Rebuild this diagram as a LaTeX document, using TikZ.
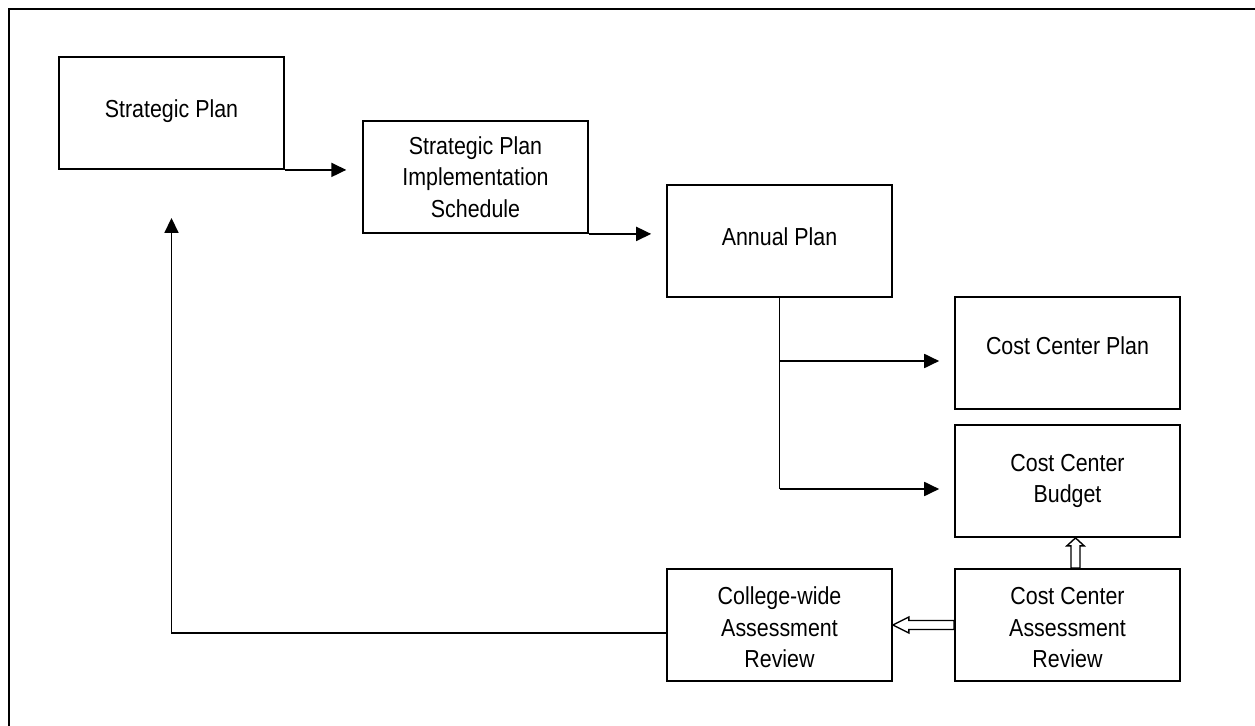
\documentclass[tikz,border=0pt]{standalone}
\usepackage{fontspec}
\setmainfont[FakeStretch=0.87]{Liberation Sans}
\usetikzlibrary{arrows.meta,calc}

% three centred lines, set slightly below the middle of their box
\newcommand\lowstack[1]{\raisebox{-6.3pt}[0pt][0pt]{\begin{tabular}{@{}c@{}}#1\end{tabular}}}

\tikzset{
  box/.style={draw, line width=1.05pt, minimum width=4.5cm, minimum height=2.24cm,
    inner sep=0pt, align=center, font=\fontsize{14pt}{18pt}\selectfont},
  flow/.style={line width=0.9pt, -{Triangle[length=8.5pt,width=8pt]}},
  hollow/.style={draw, line width=0.8pt, fill=white, line join=miter},
  frame/.style={line width=1.4pt}
}

\begin{document}
\begin{tikzpicture}[x=0.02cm, y=-0.02cm]
  \useasboundingbox (0,0) rectangle (1255,726);

  % outer frame (only top and left edges fall inside the page)
  \draw[frame] (9,740) -- (9,9) -- (1270,9);

  % boxes
  \node[box] (sp)     at (171.5,113)  {\raisebox{5pt}{Strategic Plan}};
  \node[box] (spis)   at (475.5,177)  {Strategic Plan\\Implementation\\Schedule};
  \node[box] (annual) at (779.5,241)  {\raisebox{5pt}{Annual Plan}};
  \node[box] (ccp)    at (1067.5,353) {\raisebox{8.5pt}{Cost Center Plan}};
  \node[box] (ccb)    at (1067.5,481) {Cost Center\\Budget};
  \node[box] (ccar)   at (1067.5,625) {\lowstack{Cost Center\\Assessment\\Review}};
  \node[box] (cwar)   at (779.5,625)  {\lowstack{College-wide\\Assessment\\Review}};

  % solid connectors
  \draw[flow, shorten >=9pt] (sp.south east) -- (spis.west |- sp.south east);
  \draw[flow, shorten >=8.5pt] (spis.south east) -- (annual.west |- spis.south east);

  \coordinate (j1) at (annual.south |- 0,361);
  \coordinate (j2) at (annual.south |- 0,489);
  \draw[line width=0.9pt] (annual.south) -- (j2);
  \draw[flow, shorten >=8.5pt] (j1) -- (ccp.west |- j1);
  \draw[flow, shorten >=8.5pt] (j2) -- (ccb.west |- j2);

  % feedback loop back to the strategic plan
  \coordinate (fb) at (cwar.west |- 0,633);
  \coordinate (fbtip) at (sp.south |- 0,218);
  \draw[flow] (fb) -- (fbtip |- fb) -- (fbtip);

  % hollow block arrows between the assessment boxes
  \path[hollow] (cwar.east) -- ++(16,-8) -- ++(0,3.5)
    -- ($(ccar.west)+(0,-4.5)$) -- ($(ccar.west)+(0,4.5)$)
    -- ($(cwar.east)+(16,4.5)$) -- ++(0,3.5) -- cycle;

  \coordinate (vt) at ($(ccb.south)+(8,0)$);
  \coordinate (vb) at ($(ccar.north)+(8,0)$);
  \path[hollow] (vt) -- ++(8.7,8) -- ++(-4.2,0)
    -- ($(vb)+(4.5,0)$) -- ($(vb)+(-4.5,0)$)
    -- ($(vt)+(-4.5,8)$) -- ++(-4.2,0) -- cycle;
\end{tikzpicture}
\end{document}
